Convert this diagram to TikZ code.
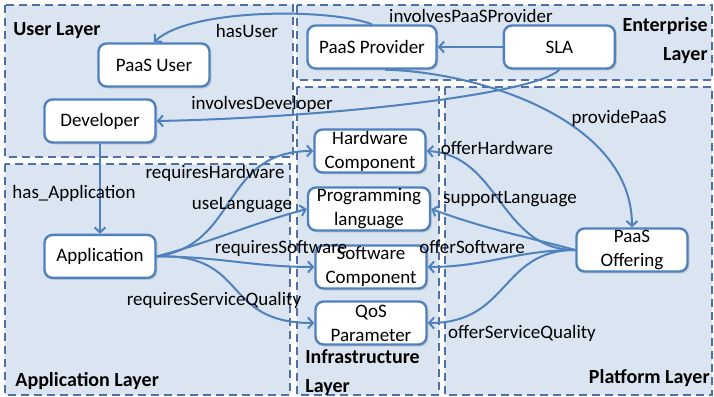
\documentclass[tikz,border=0pt]{standalone}
\usepackage{fontspec}
\setmainfont{Carlito}
\usepackage{tikz}
\usetikzlibrary{arrows.meta, positioning, shapes, shadows}
\definecolor{layerfill}{RGB}{219,229,241}
\definecolor{layerline}{RGB}{79,112,165}
\definecolor{boxline}{RGB}{79,129,189}
\tikzstyle{arrow} = [line width=1pt, draw=boxline, -{Straight Barb[length=2.5pt,width=5.5pt]}]
\tikzstyle{box} = [draw=boxline, line width=1.2pt, fill=white, rounded corners=4pt, minimum width=55.5pt, minimum height=21.5pt, inner sep=0pt, align=center, font=\fontsize{9.5}{12}\selectfont, drop shadow={opacity=0.25, shadow xshift=1pt, shadow yshift=-1pt}]
\tikzstyle{lbl} = [font=\fontsize{9.5}{12}\selectfont, inner sep=0pt]
\tikzstyle{layer} = [fill=layerfill, draw=layerline, dash pattern=on 4pt off 2.5pt, line width=0.8pt]
\tikzstyle{title} = [font=\fontsize{10}{14.5}\selectfont\bfseries, inner sep=0pt]

\begin{document}
\begin{tikzpicture}[x=0.5pt, y=-0.5pt]
  \useasboundingbox (0,0) rectangle (714,397);

  % Layers
  \draw[layer] (5,5) rectangle (293,157);
  \draw[layer] (297,5) rectangle (712,80);
  \draw[layer] (297,87) rectangle (439,395);
  \draw[layer] (445,87) rectangle (712,395);
  \draw[layer] (5,164) rectangle (290,395);
  \node (tUser) [title, anchor=base west] at (13,35) {User Layer};
  \node (tEnt) [title, anchor=base east, align=right] at (708,60) {Enterprise\\Layer};
  \node (tInfra) [title, anchor=base west, align=left] at (305,392) {Infrastructure\\Layer};
  \node (tPlat) [title, anchor=base east] at (710,383) {Platform Layer};
  \node (tApp) [title, anchor=base west] at (15,386) {Application Layer};

  % Nodes
  \node (puser) [box] at (154,65) {PaaS User};
  \node (dev) [box] at (100,121) {Developer};
  \node (app) [box, below=45pt of dev] {Application};
  \node (pprov) [box, minimum width=64.5pt] at (372,47) {PaaS Provider};
  \node (sla) [box, right=32.5pt of pprov] {SLA};
  \node (hw) [box] at (370,151) {Hardware\\Component};
  \node (pl) [box, minimum width=61pt] at (369,209) {Programming\\language};
  \node (sw) [box] at (371,267) {Software\\Component};
  \node (qos) [box] at (371,323) {QoS\\Parameter};
  \node (poff) [box] at (632,250) {PaaS\\Offering};

  % Arrows
  \draw[arrow] (pprov.north) .. controls (330,8) and (190,8) .. (puser.north);
  \draw[arrow] (sla) -- (pprov);
  \draw[arrow] (sla.south) .. controls (535,95) and (320,118) .. (dev.east);
  \draw[arrow] ([xshift=6.5pt]pprov.south) .. controls (480,72) and (632,120) .. (poff.north);
  \draw[arrow] (dev) -- (app);
  \draw[arrow] (app.east) .. controls (240,245) and (220,151) .. (hw.west);
  \draw[arrow] (app.east) to[out=15, in=195] (pl.west);
  \draw[arrow] (app.east) to[out=0, in=180] (sw.west);
  \draw[arrow] (app.east) .. controls (250,253) and (220,323) .. (qos.west);
  \draw[arrow] (poff.west) .. controls (500,250) and (500,155) .. (hw.east);
  \draw[arrow] (poff.west) to[out=165, in=-20] (pl.east);
  \draw[arrow] (poff.west) to[out=180, in=0] (sw.east);
  \draw[arrow] (poff.west) .. controls (500,250) and (510,323) .. (qos.east);

  % Labels
  \node (lHasUser) [lbl] at (247,31) {hasUser};
  \node (lInvProv) [lbl] at (471,16) {involvesPaaSProvider};
  \node (lInvDev) [lbl] at (262,104) {involvesDeveloper};
  \node (lProvide) [lbl] at (619,118) {providePaaS};
  \node (lHasApp) [lbl] at (74,193) {has\_Application};
  \node (lReqHw) [lbl] at (215,173) {requiresHardware};
  \node (lUseLang) [lbl] at (242,205) {useLanguage};
  \node (lReqSw) [lbl] at (281,248) {requiresSoftware};
  \node (lReqQos) [lbl] at (214,300) {requiresServiceQuality};
  \node (lOffHw) [lbl] at (497,148) {offerHardware};
  \node (lSupLang) [lbl] at (510,199) {supportLanguage};
  \node (lOffSw) [lbl] at (472,247) {offerSoftware};
  \node (lOffQos) [lbl] at (522,333) {offerServiceQuality};
\end{tikzpicture}
\end{document}
